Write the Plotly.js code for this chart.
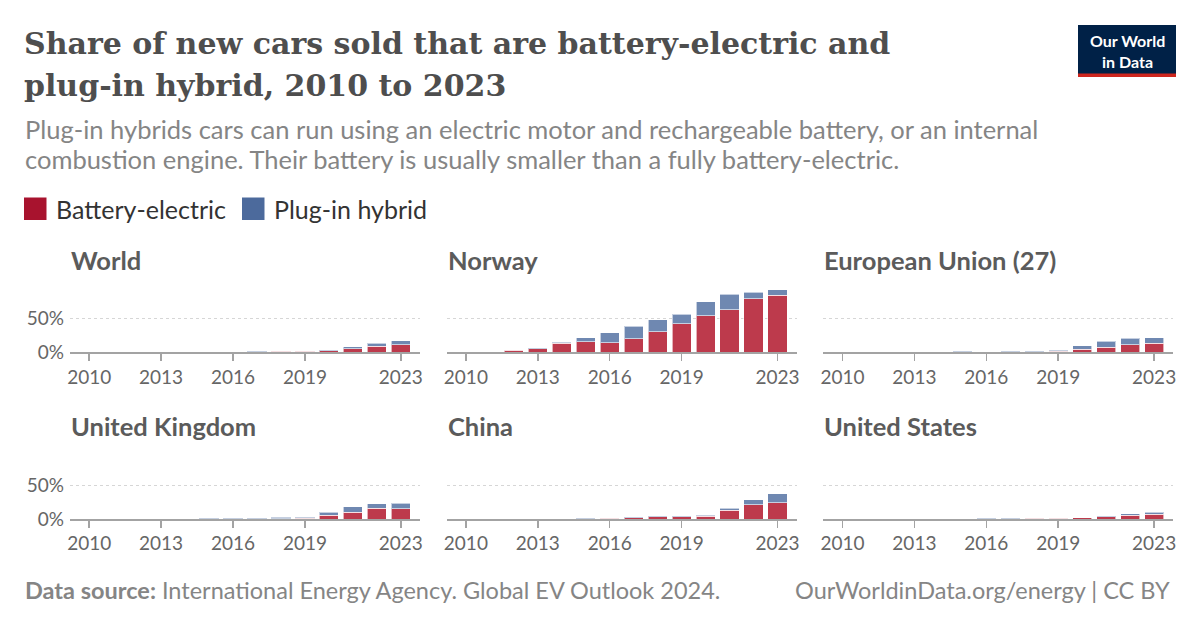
<!DOCTYPE html>
<html>
<head>
<meta charset="utf-8">
<script src="https://cdn.plot.ly/plotly-3.0.1.min.js"></script>
<style>html,body{margin:0;padding:0;background:#fff;}#chart{width:1200px;height:628px;}</style>
</head>
<body>
<div id="chart"></div>
<script>
const years = [2010,2011,2012,2013,2014,2015,2016,2017,2018,2019,2020,2021,2022,2023];
const tickYears = [2010,2013,2016,2019,2023];
const yTicks = [0,50];
const yTickLabels = ["0%","50%"];

const panelNames = ["World","Norway","European Union (27)","United Kingdom","China","United States"];

const worldBev   = [0.01,0.03,0.05,0.1,0.2,0.4,0.55,0.9,1.6,1.8,2.2,5.2,8.6,11.4];
const worldPhev  = [0,0,0.05,0.1,0.2,0.3,0.35,0.5,0.7,0.7,1.3,2.8,4.8,5.9];
const norwayBev  = [0.3,1.0,2.8,5.5,13.4,15.8,14.4,19.8,30.2,42.6,54.5,63.4,79.2,84.2];
const norwayPhev = [0,0,0.1,0.3,1.5,5.5,14.3,18.8,18.3,13.4,20.3,22.3,9.9,8.4];
const euBev      = [0,0.05,0.1,0.3,0.4,0.5,0.5,0.6,1.0,1.9,4.2,7.6,11.4,13.6];
const euPhev     = [0,0,0.1,0.2,0.3,0.7,0.6,0.8,0.9,0.9,5.2,8.7,9.4,8.2];
const ukBev      = [0,0.05,0.05,0.1,0.2,0.4,0.4,0.5,0.7,1.3,5.9,10.3,16.2,15.2];
const ukPhev     = [0,0,0,0.05,0.4,0.7,1.0,1.3,1.6,1.2,3.9,7.8,6.3,8.3];
const chinaBev   = [0.01,0.01,0.02,0.05,0.2,0.7,1.1,2.2,3.3,3.4,4.4,12.6,21.4,24.3];
const chinaPhev  = [0,0,0,0.02,0.1,0.3,0.3,0.5,1.2,1.0,1.4,3.0,7.3,13.1];
const usBev      = [0,0.1,0.1,0.3,0.35,0.4,0.5,0.6,1.4,1.4,1.7,3.4,5.3,7.3];
const usPhev     = [0,0,0.2,0.3,0.35,0.3,0.4,0.6,0.8,0.6,0.5,1.5,2.4,2.4];

const bevSeries  = [worldBev, norwayBev, euBev, ukBev, chinaBev, usBev];
const phevSeries = [worldPhev, norwayPhev, euPhev, ukPhev, chinaPhev, usPhev];

const W = 1200, H = 628;
const px = v => v / W;
const py = v => 1 - v / H;

const RED = '#bd3a4c', BLUE = '#6f88b1';
const RED_LEG = '#a8132e', BLUE_LEG = '#4c6a9c';

// panel geometry (pixels)
const colLeft = [70, 446.7, 823.3];
const colWidth = 350;
const rowZero = [352.3, 519];
const plotH = 67.5; // pixels per 100%

const traces = [];
const layout = {
  width: W, height: H,
  margin: {l:0, r:0, t:0, b:0},
  paper_bgcolor: '#fff', plot_bgcolor: 'rgba(0,0,0,0)',
  barmode: 'stack', bargap: 0.2,
  showlegend: false,
  font: {family: 'Lato, sans-serif', color: '#666'},
  annotations: [], shapes: []
};

for (let i = 0; i < 6; i++) {
  const n = i + 1;
  const suffix = n === 1 ? '' : String(n);
  const col = i % 3, row = Math.floor(i / 3);
  const x0 = colLeft[col], x1 = x0 + colWidth;
  const yb = rowZero[row], yt = yb - plotH;
  traces.push({
    type: 'bar', x: years, y: bevSeries[i], name: 'Battery-electric',
    xaxis: 'x' + suffix, yaxis: 'y' + suffix,
    marker: {color: RED, line: {color: 'rgba(255,255,255,0.6)', width: 1}},
    hoverinfo: 'x+y+name'
  });
  traces.push({
    type: 'bar', x: years, y: phevSeries[i], name: 'Plug-in hybrid',
    xaxis: 'x' + suffix, yaxis: 'y' + suffix,
    marker: {color: BLUE, line: {color: 'rgba(255,255,255,0.6)', width: 1}},
    hoverinfo: 'x+y+name'
  });
  layout['xaxis' + suffix] = {
    domain: [px(x0), px(x1)], anchor: 'y' + suffix,
    range: [2009.2, 2023.8], tickvals: tickYears, ticktext: tickYears.map(String),
    showgrid: false, zeroline: false, showline: true, linecolor: '#a3a3a3', linewidth: 1.5,
    ticks: 'outside', ticklen: 7, tickcolor: '#a3a3a3', tickwidth: 1.5,
    tickfont: {family: 'Lato, sans-serif', size: 19, color: '#666'}, fixedrange: true
  };
  layout['yaxis' + suffix] = {
    domain: [py(yb), py(yt)], anchor: 'x' + suffix,
    range: [0, 100], tickvals: yTicks, ticktext: yTickLabels,
    showticklabels: col === 0, ticks: '', ticklabelstandoff: 5,
    showgrid: true, gridcolor: '#d6d6d6', griddash: 'dot', gridwidth: 1,
    zeroline: false, showline: false,
    tickfont: {family: 'Lato, sans-serif', size: 19, color: '#666'}, fixedrange: true
  };
  layout.annotations.push({
    xref: 'paper', yref: 'paper', x: px(x0 - 1), y: py(row === 0 ? 259.5 : 426),
    xanchor: 'left', yanchor: 'middle', showarrow: false,
    text: '<b>' + panelNames[i] + '</b>',
    font: {family: 'Lato, sans-serif', size: 25.5, color: '#5b5b5b'}
  });
}

function ann(text, x, y, size, color, family, xanchor) {
  layout.annotations.push({
    xref: 'paper', yref: 'paper', x: px(x), y: py(y), xanchor: xanchor || 'left', yanchor: 'middle',
    showarrow: false, text: text, font: {family: family || 'Lato, sans-serif', size: size, color: color}
  });
}

// Title
const serif = '"DejaVu Serif", "Liberation Serif", serif';
ann('<b>Share of new cars sold that are battery-electric and</b>', 22, 43, 30, '#4e4e4e', serif);
ann('<b>plug-in hybrid, 2010 to 2023</b>', 22, 86, 30, '#4e4e4e', serif);
// Subtitle
ann('Plug-in hybrids cars can run using an electric motor and rechargeable battery, or an internal', 23, 129, 25.5, '#858585');
ann('combustion engine. Their battery is usually smaller than a fully battery-electric.', 23, 159, 25.5, '#858585');
// Legend
layout.shapes.push({type:'rect', xref:'paper', yref:'paper', x0:px(24), x1:px(46.5), y0:py(220), y1:py(197.5), fillcolor:RED_LEG, line:{width:0}});
layout.shapes.push({type:'rect', xref:'paper', yref:'paper', x0:px(242), x1:px(264.5), y0:py(220), y1:py(197.5), fillcolor:BLUE_LEG, line:{width:0}});
ann('Battery-electric', 54, 208.5, 25, '#333');
ann('Plug-in hybrid', 272, 208.5, 25, '#333');
// Footer
ann('<b>Data source:</b> International Energy Agency. Global EV Outlook 2024.', 23, 590, 23.5, '#858585');
ann('OurWorldinData.org/energy | CC BY', 1172, 590, 23.5, '#858585', null, 'right');
// Logo
layout.shapes.push({type:'rect', xref:'paper', yref:'paper', x0:px(1078), x1:px(1176), y0:py(77), y1:py(25), fillcolor:'#002147', line:{width:0}});
layout.shapes.push({type:'rect', xref:'paper', yref:'paper', x0:px(1078), x1:px(1176), y0:py(77), y1:py(73.5), fillcolor:'#ce261e', line:{width:0}});
ann('<b>Our World</b>', 1127, 40.5, 16, '#ffffff', null, 'center');
ann('<b>in Data</b>', 1127, 61, 16, '#ffffff', null, 'center');

Plotly.newPlot('chart', traces, layout, {displayModeBar: false, staticPlot: true});
</script>
</body>
</html>
